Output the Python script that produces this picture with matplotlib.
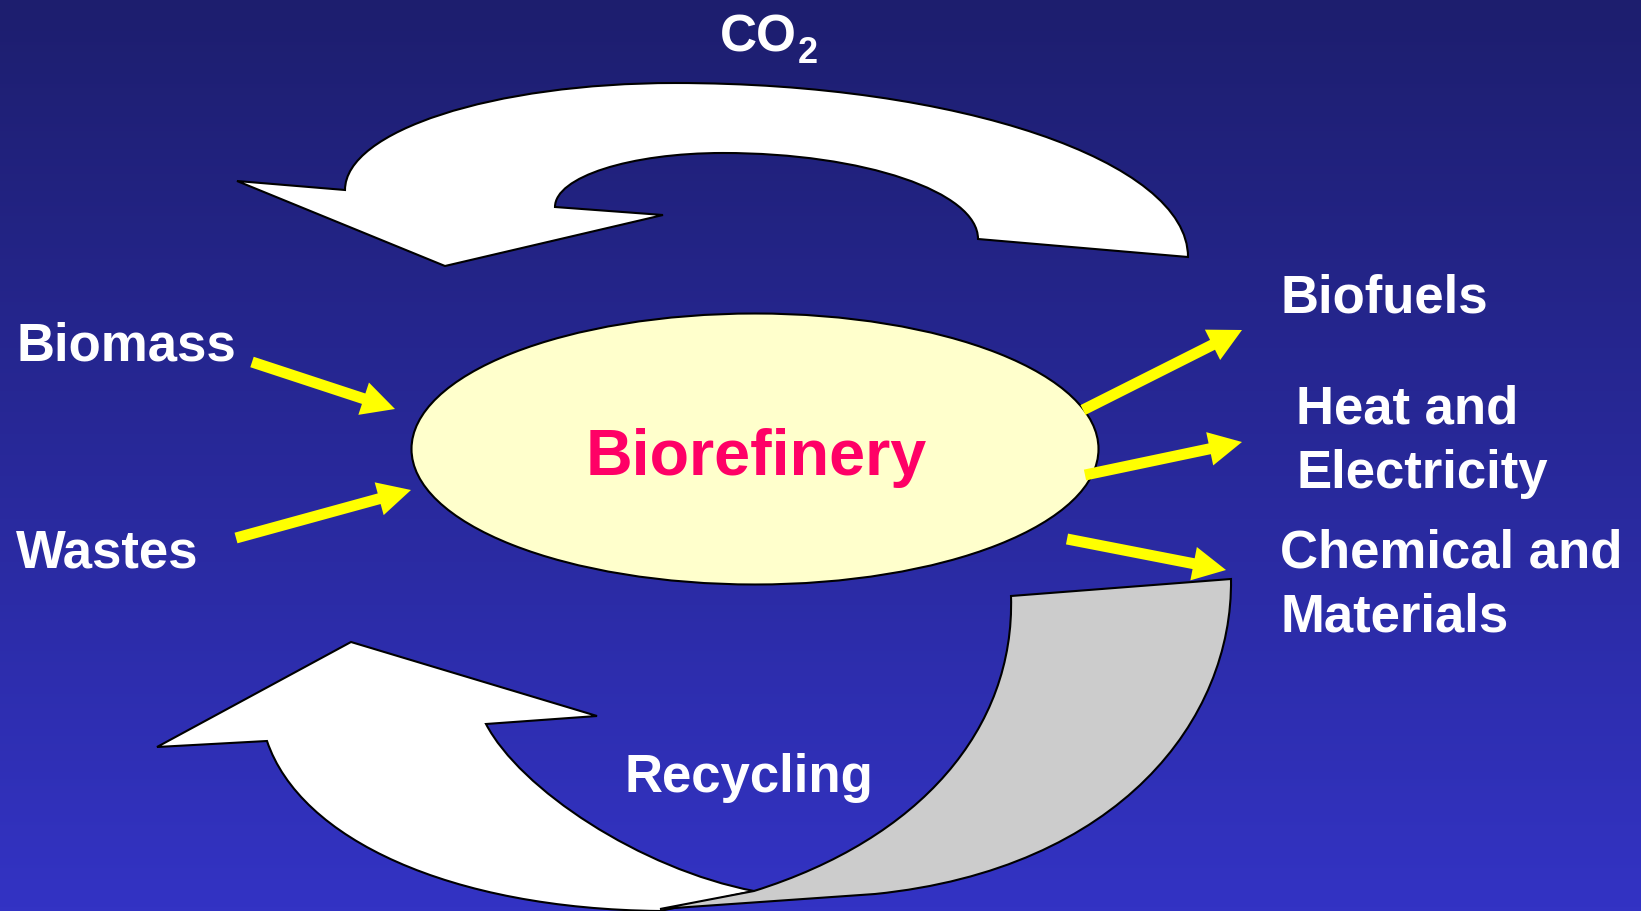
import numpy as np
import matplotlib.pyplot as plt
from matplotlib.path import Path
from matplotlib.patches import PathPatch, Ellipse, FancyArrow

W, H = 1641, 912

# labels: text, x, baseline y
labels = ["Biomass", "Wastes", "Biofuels", "Heat and", "Electricity",
          "Chemical and", "Materials", "Recycling"]
label_x = [16, 16, 1280, 1296, 1296, 1280, 1280, 624]
label_y = [361, 568, 313, 424, 488, 568, 632, 792]

# yellow arrows: start -> tip
arrow_start = [(252, 363), (236, 539), (1083, 411), (1085, 476), (1067, 540)]
arrow_tip = [(395, 410), (411, 491), (1242, 331), (1242, 443), (1226, 571)]

# ellipse
ell_center = (755, 450)
ell_size = (687, 271)

# CO2 arrow outline
co2_verts = [(1188, 258),
             (1188, 162), (958, 84), (675, 84),
             (493, 84), (345, 132), (345, 191),
             (237, 182), (445, 267), (663, 216), (555, 208),
             (555, 178), (630, 154), (723, 154),
             (864, 154), (978, 193), (978, 240),
             (1188, 258)]
co2_codes = [Path.MOVETO] + [Path.CURVE4] * 6 + [Path.LINETO] * 4 + \
            [Path.CURVE4] * 6 + [Path.CLOSEPOLY]

# recycling arrow (white part)
rec_verts = [(351, 643), (597, 717), (486, 725),
             (520, 790), (640, 870), (754, 892),
             (660, 912),
             (450, 910), (300, 840), (267, 742),
             (157, 748), (351, 643)]
rec_codes = [Path.MOVETO, Path.LINETO, Path.LINETO] + [Path.CURVE4] * 3 + \
            [Path.LINETO] + [Path.CURVE4] * 3 + [Path.LINETO, Path.CLOSEPOLY]

# grey back side of the ribbon
grey_verts = [(1011, 597), (1231, 580),
              (1233, 720), (1120, 870), (875, 895),
              (660, 910), (754, 892),
              (920, 840), (1015, 730), (1011, 597),
              (1011, 597)]
grey_codes = [Path.MOVETO, Path.LINETO] + [Path.CURVE4] * 3 + \
             [Path.LINETO, Path.LINETO] + [Path.CURVE4] * 3 + [Path.CLOSEPOLY]

fig = plt.figure(figsize=(W / 100, H / 100), dpi=100)
ax = fig.add_axes([0, 0, 1, 1])
ax.set_xlim(0, W)
ax.set_ylim(H, 0)
ax.axis('off')

# background gradient
top = np.array([29, 30, 110]) / 255
bot = np.array([51, 51, 196]) / 255
t = np.linspace(0, 1, 256)[:, None]
grad = top[None, :] * (1 - t) + bot[None, :] * t
ax.imshow(grad[:, None, :], extent=[0, W, H, 0], aspect='auto', zorder=0)

ax.add_patch(PathPatch(Path(co2_verts, co2_codes), facecolor='white',
                       edgecolor='black', lw=1.5, zorder=2))
ax.add_patch(PathPatch(Path(rec_verts, rec_codes), facecolor='white',
                       edgecolor='black', lw=1.5, zorder=2))
ax.add_patch(PathPatch(Path(grey_verts, grey_codes), facecolor='#cccccc',
                       edgecolor='black', lw=1.5, zorder=3))
ax.add_patch(Ellipse(ell_center, ell_size[0], ell_size[1], facecolor='#ffffcc',
                     edgecolor='black', lw=1.5, zorder=3))

for (x0, y0), (x1, y1) in zip(arrow_start, arrow_tip):
    ax.add_patch(FancyArrow(x0, y0, x1 - x0, y1 - y0, width=11, head_width=34,
                            head_length=33, length_includes_head=True,
                            color='#ffff00', lw=0, zorder=4))

font = 'Liberation Sans'
ax.text(756, 475, 'Biorefinery', color='#ff0066', fontsize=46.5, fontweight='bold',
        family=font, ha='center', va='baseline', zorder=5)
for s, x, y in zip(labels, label_x, label_y):
    ax.text(x, y, s, color='white', fontsize=38, fontweight='bold', family=font,
            ha='left', va='baseline', zorder=5)
ax.text(720, 52, 'CO', color='white', fontsize=37, fontweight='bold', family=font,
        ha='left', va='baseline', zorder=5)
ax.text(798, 63, '2', color='white', fontsize=26, fontweight='bold', family=font,
        ha='left', va='baseline', zorder=5)

plt.savefig('out.png', dpi=100)
